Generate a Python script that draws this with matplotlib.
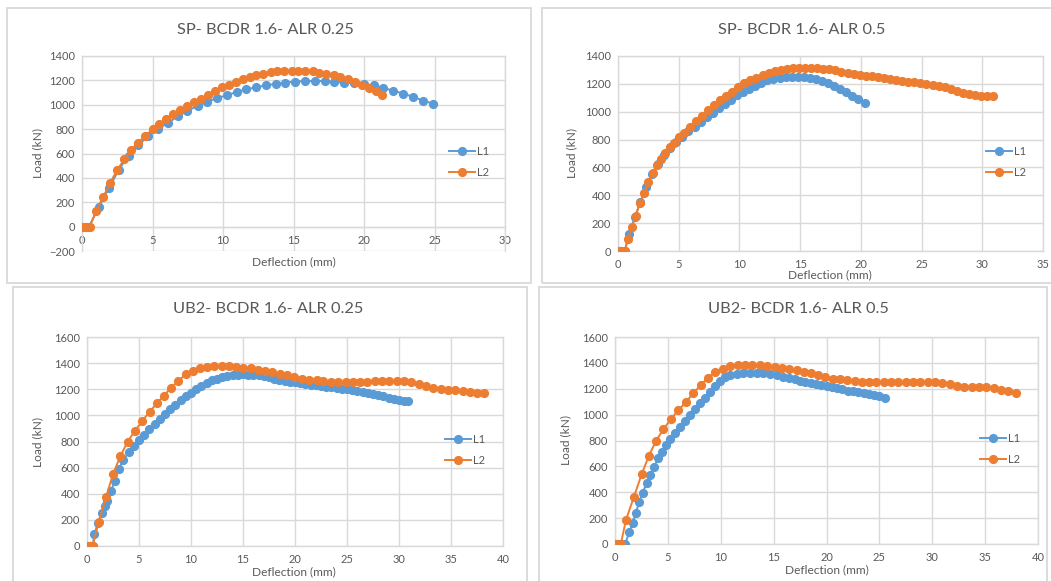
import matplotlib
matplotlib.use('Agg')
import matplotlib.pyplot as plt
from matplotlib.patches import Rectangle

W, H = 1051, 581

# SP, ALR 0.25
sp25_l1_x = [0, 0.25, 0.5, 1.18, 1.9, 2.6, 3.3, 4.0, 4.7, 5.4, 6.1, 6.8, 7.45, 8.2, 8.85, 9.55, 10.27, 10.98,
             11.66, 12.37, 13.06, 13.75, 14.43, 15.12, 15.8, 16.5, 17.2, 17.9, 18.6, 19.3, 20.0, 20.68, 21.36,
             22.07, 22.78, 23.5, 24.2, 24.9]
sp25_l1_y = [0, 0, 0, 158, 314, 465, 583, 670, 744, 804, 853, 905, 949, 990, 1023, 1053, 1078, 1105,
             1127, 1143, 1160, 1171, 1182, 1190, 1195, 1195, 1195, 1187, 1182, 1176, 1168, 1160, 1138,
             1116, 1092, 1064, 1034, 1009]
sp25_l2_x = [0, 0.3, 0.55, 1.0, 1.5, 2.0, 2.5, 3.0, 3.5, 3.97, 4.5, 5.0, 5.46, 5.96, 6.45, 6.95, 7.45, 7.95,
             8.45, 8.94, 9.44, 9.9, 10.4, 10.9, 11.4, 11.9, 12.37, 12.87, 13.37, 13.86, 14.36, 14.86, 15.35,
             15.85, 16.35, 16.84, 17.34, 17.84, 18.33, 18.83, 19.33, 19.85, 20.34, 20.84, 21.3]
sp25_l2_y = [0, 0, 0, 126, 241, 361, 465, 552, 629, 689, 747, 798, 842, 886, 925, 958, 990, 1020,
             1050, 1080, 1116, 1143, 1165, 1187, 1209, 1225, 1247, 1255, 1269, 1275, 1277, 1280, 1277,
             1277, 1275, 1264, 1255, 1245, 1228, 1209, 1190, 1165, 1138, 1110, 1083]

# SP, ALR 0.5
sp50_l1_x = [0, 0.25, 0.55, 0.93, 1.4, 1.84, 2.3, 2.8, 3.3, 3.8, 4.3, 4.8, 5.3, 5.8, 6.3, 6.8, 7.3, 7.8,
             8.3, 8.8, 9.3, 9.8, 10.3, 10.8, 11.3, 11.8, 12.3, 12.8, 13.3, 13.8, 14.3, 14.8, 15.3, 15.8,
             16.3, 16.8, 17.3, 17.8, 18.3, 18.8, 19.3, 19.8, 20.3]
sp50_l1_y = [0, 0, 0, 125, 245, 350, 460, 550, 625, 690, 738, 782, 822, 858, 893, 928, 960, 993,
             1030, 1058, 1085, 1122, 1145, 1165, 1185, 1205, 1225, 1235, 1242, 1248, 1252, 1252, 1250, 1244,
             1236, 1224, 1208, 1188, 1166, 1140, 1112, 1090, 1062]
sp50_l2_x = [0, 0.27, 0.55, 0.8, 1.15, 1.45, 1.81, 2.17, 2.5, 2.86, 3.19, 3.54, 3.9, 4.28, 4.61, 5.02,
             5.4, 5.9, 6.4, 6.9, 7.4, 7.9, 8.4, 8.9, 9.4, 9.9, 10.4, 10.9, 11.4, 11.9, 12.4, 12.9, 13.4,
             13.9, 14.4, 14.9, 15.4, 15.9, 16.4, 16.9, 17.4, 17.9, 18.4, 18.9, 19.4, 19.9, 20.4, 20.9,
             21.4, 21.9, 22.4, 22.9, 23.4, 23.9, 24.4, 24.9, 25.4, 25.9, 26.4, 26.9, 27.4, 27.9, 28.4,
             28.9, 29.4, 29.9, 30.4, 30.9]
sp50_l2_y = [0, 0, 0, 84, 173, 254, 346, 420, 492, 562, 617, 662, 706, 744, 778, 816,
             850, 890, 930, 970, 1010, 1045, 1082, 1112, 1145, 1180, 1205, 1225, 1245, 1262, 1278, 1290, 1300,
             1307, 1312, 1315, 1316, 1316, 1314, 1310, 1304, 1296, 1288, 1278, 1270, 1264, 1260, 1255,
             1249, 1243, 1236, 1230, 1224, 1216, 1210, 1204, 1199, 1194, 1186, 1176, 1162, 1148, 1136,
             1125, 1118, 1114, 1112, 1110]

# UB2, ALR 0.25
ub25_l1_x = [0, 0.3, 0.55, 0.7, 1.05, 1.4, 1.7, 1.94, 2.3, 2.67, 3.05, 3.5, 4.0, 4.5, 5.0, 5.5, 6.0, 6.5,
             7.0, 7.5, 8.0, 8.5, 9.0, 9.5, 10.0, 10.5, 11.0, 11.5, 12.0, 12.5, 13.0, 13.5, 14.0, 14.5, 15.0,
             15.5, 16.0, 16.5, 17.0, 17.5, 18.0, 18.5, 19.0, 19.5, 20.0, 20.5, 21.0, 21.5, 22.0, 22.5, 23.0,
             23.5, 24.0, 24.5, 25.0, 25.5, 26.0, 26.5, 27.0, 27.5, 28.0, 28.5, 29.0, 29.5, 30.0, 30.5, 30.9]
ub25_l1_y = [0, 0, 0, 90, 175, 255, 305, 344, 420, 497, 590, 660, 718, 767, 812, 852, 892, 933,
             975, 1010, 1045, 1080, 1114, 1145, 1175, 1203, 1228, 1251, 1267, 1282, 1294, 1303, 1308, 1311, 1313,
             1312, 1310, 1306, 1300, 1292, 1281, 1272, 1265, 1258, 1252, 1246, 1240, 1235, 1230, 1225, 1220,
             1215, 1208, 1204, 1199, 1194, 1188, 1180, 1172, 1164, 1155, 1145, 1135, 1126, 1118, 1113, 1110]
ub25_l2_x = [0, 0.3, 0.55, 1.12, 1.83, 2.5, 3.2, 3.91, 4.62, 5.32, 6.03, 6.7, 7.38, 8.08, 8.79, 9.49, 10.17,
             10.87, 11.55, 12.25, 12.96, 13.66, 14.34, 15.04, 15.75, 16.45, 17.13, 17.83, 18.54, 19.24, 19.95,
             20.65, 21.36, 22.07, 22.74, 23.44, 24.15, 24.86, 25.56, 26.27, 26.94, 27.65, 28.35, 29.06, 29.76,
             30.47, 31.17, 31.88, 32.58, 33.29, 34.0, 34.7, 35.41, 36.11, 36.82, 37.52, 38.13]
ub25_l2_y = [0, 0, 0, 183, 374, 550, 687, 799, 883, 959, 1028, 1091, 1150, 1211, 1264, 1315, 1341,
             1361, 1374, 1379, 1379, 1376, 1371, 1364, 1359, 1351, 1341, 1333, 1320, 1308, 1292,
             1280, 1272, 1267, 1262, 1257, 1254, 1254, 1257, 1257, 1257, 1262, 1264, 1264, 1264,
             1264, 1254, 1241, 1226, 1213, 1203, 1198, 1191, 1185, 1180, 1175, 1170]

# UB2, ALR 0.5
ub50_l1_x = [0, 0.3, 0.6, 0.95, 1.35, 1.67, 1.98, 2.3, 2.61, 3.0, 3.31, 3.69, 4.1, 4.41, 4.82, 5.2, 5.67,
             6.14, 6.62, 7.09, 7.56, 8.03, 8.51, 8.98, 9.45, 9.92, 10.4, 10.87, 11.5, 12.13, 12.76, 13.39,
             14.02, 14.65, 15.28, 15.91, 16.5, 17.0, 17.5, 18.0, 18.5, 19.0, 19.5, 20.0, 20.5, 21.0, 21.5,
             22.0, 22.5, 23.0, 23.5, 24.0, 24.5, 25.0, 25.5]
ub50_l1_y = [0, 0, 0, 0, 89, 166, 243, 328, 398, 470, 534, 598, 662, 713, 765, 809, 855,
             901, 952, 996, 1040, 1086, 1132, 1176, 1220, 1260, 1287, 1304, 1317, 1322, 1325, 1322,
             1318, 1312, 1304, 1294, 1282, 1272, 1262, 1255, 1246, 1238, 1231, 1224, 1214, 1204, 1195,
             1186, 1180, 1174, 1168, 1162, 1153, 1143, 1125]
ub50_l2_x = [0, 0.25, 0.55, 1.04, 1.8, 2.52, 3.21, 3.88, 4.57, 5.26, 5.99, 6.71, 7.4, 8.1, 8.79, 9.48, 10.2,
             10.9, 11.6, 12.3, 12.98, 13.68, 14.4, 15.1, 15.8, 16.5, 17.2, 17.9, 18.49, 19.18, 19.87, 20.57,
             21.26, 21.95, 22.65, 23.34, 24.03, 24.72, 25.42, 26.11, 26.8, 27.5, 28.19, 28.88, 29.57, 30.27,
             30.96, 31.65, 32.35, 33.04, 33.73, 34.43, 35.12, 35.81, 36.5, 37.2, 37.95]
ub50_l2_y = [0, 0, 0, 187, 367, 539, 683, 798, 886, 963, 1035, 1097, 1166, 1227, 1286, 1330, 1356,
             1374, 1380, 1385, 1384, 1380, 1374, 1367, 1360, 1353, 1344, 1330, 1320, 1305, 1292, 1279,
             1274, 1266, 1258, 1256, 1256, 1256, 1253, 1251, 1251, 1253, 1256, 1256, 1256, 1251,
             1246, 1238, 1225, 1217, 1215, 1215, 1210, 1204, 1194, 1181, 1171]

titles = ['SP- BCDR 1.6- ALR 0.25', 'SP- BCDR 1.6- ALR 0.5',
          'UB2- BCDR 1.6- ALR 0.25', 'UB2- BCDR 1.6- ALR 0.5']
series_names = ['L1', 'L2']

BLUE = '#5B9BD5'
ORANGE = '#ED7D31'
GRID = '#D9D9D9'
TXT = '#595959'

plt.rcParams['font.family'] = ['Lato', 'DejaVu Sans']

fig = plt.figure(figsize=(W / 100, H / 100), dpi=100)
fig.patch.set_facecolor('white')


def px_rect(x0, y0, x1, y1):
    # pixel box (top-left origin) -> figure fraction
    return [x0 / W, 1 - y1 / H, (x1 - x0) / W, (y1 - y0) / H]


def panel(frame, axbox, title, title_xy, xlab_xy, ylab_xy, leg_xy,
          l1, l2, xmax, xstep, ymin, ymax):
    fx = px_rect(*frame)
    fig.add_artist(Rectangle((fx[0], fx[1]), fx[2], fx[3], transform=fig.transFigure,
                             fill=False, ec=GRID, lw=1.3))
    ax = fig.add_axes(px_rect(*axbox))
    ax.plot(l1[0], l1[1], '-o', color=BLUE, lw=1.4, ms=5.6, label=series_names[0], zorder=3)
    ax.plot(l2[0], l2[1], '-o', color=ORANGE, lw=1.4, ms=5.6, label=series_names[1], zorder=4)
    ax.set_xlim(0, xmax)
    ax.set_ylim(ymin, ymax)
    ax.set_xticks(range(0, xmax + 1, xstep))
    ax.set_yticks(range(ymin, ymax + 1, 200))
    ax.grid(True, color=GRID, lw=1.0)
    ax.set_axisbelow(True)
    for s in ax.spines.values():
        s.set_color(GRID)
        s.set_linewidth(1.0)
    if ymin < 0:
        ax.spines['bottom'].set_position(('data', 0))
    ax.tick_params(length=0, labelsize=8, labelcolor=TXT)
    ax.tick_params(axis='x', pad=6)
    ax.tick_params(axis='y', pad=5)

    fig.text(title_xy[0] / W, 1 - title_xy[1] / H, title, ha='center', va='center',
             fontsize=11.8, color=TXT)
    fig.text(xlab_xy[0] / W, 1 - xlab_xy[1] / H, 'Deflection (mm)', ha='center', va='center',
             fontsize=8.6, color=TXT)
    fig.text(ylab_xy[0] / W, 1 - ylab_xy[1] / H, 'Load (kN)', ha='center', va='center',
             fontsize=8.6, color=TXT, rotation=90)
    ax.legend(loc='center left', bbox_to_anchor=(leg_xy[0] / W, 1 - leg_xy[1] / H),
              bbox_transform=fig.transFigure, frameon=False, fontsize=8,
              handlelength=2.3, handletextpad=0.2, labelspacing=0.95,
              borderpad=0, borderaxespad=0, labelcolor=TXT)
    return ax


panel((7, 8, 531, 283), (82, 56, 505, 251), titles[0], (265, 30), (294, 262), (38, 153), (449, 162),
      (sp25_l1_x, sp25_l1_y), (sp25_l2_x, sp25_l2_y), 30, 5, -200, 1400)
panel((542, 8, 1060, 283), (618, 56, 1043, 251), titles[1], (802, 30), (830, 275), (572, 153), (986, 162),
      (sp50_l1_x, sp50_l1_y), (sp50_l2_x, sp50_l2_y), 35, 5, 0, 1400)
panel((13, 287, 527, 595), (87, 337, 503, 546), titles[2], (268, 309), (294, 572), (38, 442), (445, 450),
      (ub25_l1_x, ub25_l1_y), (ub25_l2_x, ub25_l2_y), 40, 5, 0, 1600)
panel((539, 287, 1047, 595), (615, 337, 1038, 544), titles[3], (798, 309), (827, 570), (566, 440), (980, 449),
      (ub50_l1_x, ub50_l1_y), (ub50_l2_x, ub50_l2_y), 40, 5, 0, 1600)

fig.savefig('out.png', dpi=100)
